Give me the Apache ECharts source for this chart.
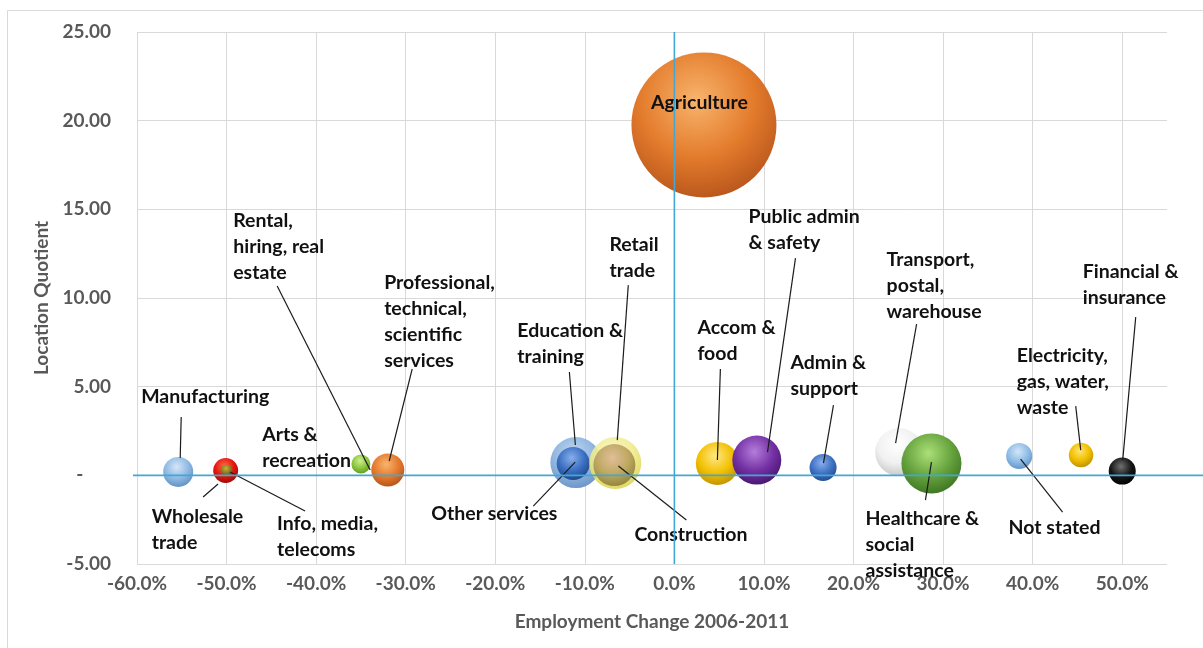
<!DOCTYPE html>
<html>
<head>
<meta charset="utf-8">
<script src="https://cdn.jsdelivr.net/npm/echarts@6/dist/echarts.min.js"></script>
<style>
  html, body { margin: 0; padding: 0; background: #ffffff; }
  #chart { width: 1203px; height: 648px; }
</style>
</head>
<body>
<div id="chart"></div>
<script>
// Industries, in drawing order (later bubbles sit on top of earlier ones)
const industries = [
  'Agriculture', 'Manufacturing', 'Wholesale trade', 'Info, media, telecoms',
  'Rental, hiring, real estate', 'Arts & recreation',
  'Professional, technical, scientific services', 'Education & training',
  'Other services', 'Retail trade', 'Construction', 'Accom & food',
  'Public admin & safety', 'Admin & support', 'Transport, postal, warehouse',
  'Healthcare & social assistance', 'Not stated',
  'Electricity, gas, water, waste', 'Financial & insurance'
];

// Text shown beside each bubble
const bubbleLabels = [
  'Agriculture', 'Manufacturing', 'Wholesale\ntrade', 'Info, media,\ntelecoms',
  'Rental,\nhiring, real\nestate', 'Arts &\nrecreation',
  'Professional,\ntechnical,\nscientific\nservices', 'Education &\ntraining',
  'Other services', 'Retail\ntrade', 'Construction', 'Accom &\nfood',
  'Public admin\n& safety', 'Admin &\nsupport', 'Transport,\npostal,\nwarehouse',
  'Healthcare &\nsocial\nassistance', 'Not stated',
  'Electricity,\ngas, water,\nwaste', 'Financial &\ninsurance'
];

// Employment change 2006-2011 (fraction)
const employmentChange = [
  0.033, -0.554, -0.501, -0.500, -0.330, -0.350, -0.320, -0.110, -0.113,
  -0.066, -0.067, 0.048, 0.092, 0.166, 0.251, 0.287, 0.385, 0.454, 0.500
];

// Location quotient
const locationQuotient = [
  19.76, 0.19, 0.27, 0.28, 0.30, 0.64, 0.30, 0.72, 0.67,
  0.69, 0.58, 0.67, 0.86, 0.44, 1.31, 0.67, 1.09, 1.14, 0.24
];

// Persons employed (bubble size)
const employment = [
  2100, 90, 62, 14, 14, 36, 109, 260, 109,
  270, 176, 185, 240, 73, 230, 360, 68, 60, 73
];

// Sphere shading per industry: [highlight, body, rim, opacity]
const sphereColors = [
  ['#f8b46c', '#e37b2c', '#b4521a', 1],
  ['#d4e6f6', '#8fb9e3', '#5a8bc1', 1],
  ['#ff6a48', '#e3140f', '#960806', 1],
  ['#c9b044', '#8c7a1c', '#5a4e10', 1],
  ['#a8a8a8', '#707070', '#404040', 1],
  ['#cdef92', '#8cc63e', '#5b9820', 1],
  ['#f7b56c', '#e5782c', '#ae5018', 1],
  ['#bdd6ef', '#87b0de', '#5c87be', 0.92],
  ['#86afec', '#3b6fc2', '#1d4383', 1],
  ['#f8f6cc', '#efeb8c', '#d6cf44', 0.88],
  ['#dfb994', '#b9a25a', '#877834', 0.92],
  ['#ffe888', '#f2c000', '#bd8d00', 1],
  ['#b47ddb', '#7330a3', '#431368', 1],
  ['#88afec', '#3f70c3', '#21498a', 1],
  ['#ffffff', '#f1f1f1', '#c2c2c2', 1],
  ['#acdf78', '#65a23d', '#3a7020', 1],
  ['#d2e6f7', '#8fbde6', '#5d8fc4', 1],
  ['#ffe56e', '#f0be00', '#b68b00', 1],
  ['#707070', '#151515', '#000000', 1]
];

// Label placement relative to the bubble centre (pixels):
// text = top-left of the label block, line = leader line [x1, y1, x2, y2]
const labelPlacement = [
  { text: [-4.5, -22], align: 'center', middle: true },
  { text: [-37, -88], line: [3, -55, 2, -14] },
  { text: [-74, 33.5], line: [-22.6, 26.5, -7.6, 13.5] },
  { text: [50.5, 40.7], line: [78.5, 40.7, 3.5, 1.7] },
  { text: [-145.65, -262], line: [-101.65, -184, -8.65, 0] },
  { text: [-98.75, -42] },
  { text: [-3.6, -200], line: [24.4, -101, 1.4, -9] },
  { text: [-58.5, -144.5], line: [-6.5, -90.5, -0.5, -17.5] },
  { text: [-141.9, 37.6], line: [-39.9, 42.6, 2, -1.4] },
  { text: [-5.9, -231], line: [13, -178, 2, -23] },
  { text: [20, 57], line: [72, 55, 4, 1] },
  { text: [-20, -148.4], line: [3, -94.4, 0, -3.4] },
  { text: [-8.3, -256], line: [38.7, -202, 10.7, -8] },
  { text: [-32.6, -117.5], line: [10.4, -62.5, 0.4, -4.5] },
  { text: [-12.6, -205], line: [17.4, -128, -3.6, -9] },
  { text: [-65.9, 42.6], line: [0, -1.4, -6, 36.6] },
  { text: [-10.6, 59], line: [1.4, 3, 43.4, 56] },
  { text: [-64.3, -112], line: [-5.3, -49, -0.3, -5] },
  { text: [-39.5, -212], line: [13.5, -154, 0.5, -11] }
];

const MAX_DIAMETER = 145;
const maxEmployment = Math.max(...employment);
const LABEL_FONT = 'Lato, "Open Sans", sans-serif';
const AXIS_GREY = '#595959';
const AXIS_CYAN = '#43a7d3';

function sphere(c) {
  return {
    type: 'radial', x: 0.45, y: 0.33, r: 0.72,
    colorStops: [
      { offset: 0, color: c[0] },
      { offset: 0.55, color: c[1] },
      { offset: 1, color: c[2] }
    ]
  };
}

const bubbleData = industries.map((name, i) => ({
  name: name,
  value: [employmentChange[i], locationQuotient[i], employment[i], i],
  itemStyle: { color: sphere(sphereColors[i]), opacity: sphereColors[i][3] }
}));

const labelData = industries.map((name, i) => [employmentChange[i], locationQuotient[i], i]);

const chart = echarts.init(document.getElementById('chart'), null, { renderer: 'canvas' });

chart.setOption({
  backgroundColor: '#ffffff',
  animation: false,
  grid: { left: 137, right: 36, top: 32, bottom: 84, containLabel: false },
  xAxis: {
    type: 'value',
    min: -0.6, max: 0.55, interval: 0.1,
    name: 'Employment Change 2006-2011',
    nameLocation: 'middle', nameGap: 48,
    nameTextStyle: { color: AXIS_GREY, fontFamily: LABEL_FONT, fontWeight: 'bold', fontSize: 19 },
    axisLine: { show: false },
    axisTick: { show: false },
    axisLabel: {
      color: AXIS_GREY, fontFamily: LABEL_FONT, fontWeight: 'bold', fontSize: 19, margin: 10,
      showMaxLabel: false,
      formatter: v => (v * 100).toFixed(1) + '%'
    },
    splitLine: { show: true, showMaxLine: false, lineStyle: { color: '#d9d9d9', width: 1 } }
  },
  yAxis: {
    type: 'value',
    min: -5, max: 25, interval: 5,
    name: 'Location Quotient',
    nameLocation: 'middle', nameGap: 84, nameRotate: 90,
    nameTextStyle: { color: AXIS_GREY, fontFamily: LABEL_FONT, fontWeight: 'bold', fontSize: 19 },
    axisLine: { show: false },
    axisTick: { show: false },
    axisLabel: {
      color: AXIS_GREY, fontFamily: LABEL_FONT, fontWeight: 'bold', fontSize: 19, margin: 26,
      formatter: v => (Math.abs(v) < 1e-9 ? '-      ' : v.toFixed(2))
    },
    splitLine: { show: true, lineStyle: { color: '#d9d9d9', width: 1 } }
  },
  series: [
    {
      type: 'scatter',
      data: bubbleData,
      symbol: 'circle',
      symbolSize: val => MAX_DIAMETER * Math.sqrt(val[2] / maxEmployment),
      clip: false,
      z: 2
    },
    {
      type: 'custom',
      data: labelData,
      z: 5,
      silent: true,
      renderItem: (params, api) => {
        const i = api.value(2);
        const c = api.coord([api.value(0), api.value(1)]);
        const p = labelPlacement[i];
        const children = [];
        if (p.line) {
          children.push({
            type: 'line',
            shape: { x1: c[0] + p.line[0], y1: c[1] + p.line[1], x2: c[0] + p.line[2], y2: c[1] + p.line[3] },
            style: { stroke: '#1c1c1c', lineWidth: 1.2 }
          });
        }
        children.push({
          type: 'text',
          x: c[0] + p.text[0], y: c[1] + p.text[1],
          style: {
            text: bubbleLabels[i],
            fontFamily: LABEL_FONT, fontWeight: 'bold', fontSize: 19.5,
            lineHeight: 26, fill: '#111111',
            align: p.align || 'left',
            verticalAlign: p.middle ? 'middle' : 'top'
          }
        });
        return { type: 'group', children: children };
      }
    }
  ]
});

// Chart frame and the cyan zero axes, placed from the axis scales
const origin = chart.convertToPixel({ gridIndex: 0 }, [0, 0]);
const topLeft = chart.convertToPixel({ gridIndex: 0 }, [-0.6, 25]);
const bottom = chart.convertToPixel({ gridIndex: 0 }, [0, -5]);
chart.setOption({
  graphic: [
    {
      type: 'rect', z: 0, silent: true,
      shape: { x: 7.5, y: 10.5, width: 1400, height: 800 },
      style: { fill: 'none', stroke: '#d9d9d9', lineWidth: 1 }
    },
    {
      type: 'line', z: 10, silent: true,
      shape: { x1: topLeft[0] - 4, y1: origin[1], x2: 1203, y2: origin[1] },
      style: { stroke: AXIS_CYAN, lineWidth: 1.6 }
    },
    {
      type: 'line', z: 10, silent: true,
      shape: { x1: origin[0], y1: topLeft[1], x2: origin[0], y2: bottom[1] },
      style: { stroke: AXIS_CYAN, lineWidth: 1.6 }
    }
  ]
});
</script>
</body>
</html>
